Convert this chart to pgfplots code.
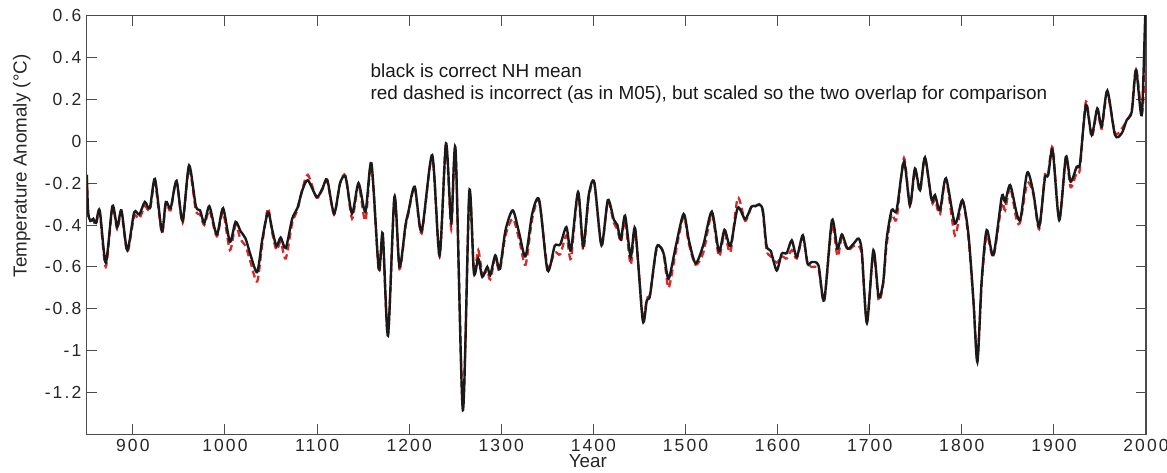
\documentclass[border=0pt]{standalone}
\usepackage{fontspec}
\setmainfont{Liberation Sans}
\newfontfamily\tickfont[LetterSpace=12]{Liberation Sans}
\usepackage{pgfplots}
\pgfplotsset{compat=1.18}
\definecolor{mredd}{HTML}{D42A2A}
\definecolor{mblack}{HTML}{1A1A1A}

\pgfplotstableread{
year val
850 -0.16
851.5 -0.34
854 -0.38
857 -0.37
860 -0.39
864 -0.33
870.6 -0.58
877.8 -0.31
883 -0.41
887.6 -0.33
894 -0.52
901.4 -0.34
907 -0.35
913 -0.29
918.4 -0.32
924 -0.18
931.5 -0.43
935.8 -0.29
941 -0.32
947.4 -0.19
954 -0.38
961 -0.115
968.4 -0.31
973 -0.33
977.5 -0.39
983 -0.31
989 -0.42
992 -0.44
998 -0.32
1005.4 -0.48
1011.5 -0.385
1017 -0.43
1022.4 -0.465
1027.9 -0.545
1035 -0.625
1040.5 -0.47
1046.7 -0.34
1051.4 -0.425
1056 -0.50
1060.5 -0.46
1066 -0.51
1073 -0.37
1078.6 -0.32
1084 -0.234
1090 -0.186
1099.6 -0.266
1105.8 -0.226
1111 -0.183
1118.5 -0.346
1125 -0.20
1131 -0.172
1138 -0.345
1145 -0.20
1152.5 -0.337
1159 -0.105
1167 -0.61
1171.3 -0.44
1177 -0.926
1184 -0.265
1189.5 -0.60
1196 -0.40
1199 -0.34
1206 -0.217
1213.5 -0.43
1225 -0.066
1233 -0.544
1240 -0.01
1245.7 -0.385
1250.4 -0.042
1258.3 -1.285
1265.3 -0.24
1270.3 -0.63
1275 -0.56
1279.4 -0.648
1284.8 -0.60
1288 -0.64
1293.5 -0.545
1298.3 -0.61
1304.6 -0.425
1312.5 -0.33
1319.5 -0.44
1326.3 -0.55
1333.6 -0.346
1341.2 -0.281
1350.2 -0.617
1358 -0.50
1364 -0.493
1370.7 -0.41
1375.6 -0.52
1383.4 -0.242
1389 -0.50
1395 -0.255
1401 -0.196
1408.8 -0.497
1415.7 -0.281
1422.2 -0.375
1426 -0.40
1429.9 -0.47
1434.4 -0.355
1440.5 -0.553
1445.4 -0.417
1453.6 -0.856
1458 -0.76
1461.5 -0.736
1468.5 -0.508
1474 -0.513
1477 -0.55
1481.7 -0.657
1489.3 -0.505
1498 -0.347
1503.7 -0.473
1511 -0.583
1519.5 -0.493
1528.6 -0.336
1536.3 -0.525
1542.4 -0.423
1548.8 -0.50
1556.7 -0.318
1564.8 -0.372
1571.7 -0.312
1576 -0.31
1580.2 -0.303
1584 -0.33
1588 -0.50
1592.6 -0.524
1599 -0.617
1604.5 -0.537
1610 -0.534
1615.4 -0.473
1620.8 -0.553
1627.4 -0.449
1632.5 -0.585
1637 -0.577
1644.4 -0.593
1650.6 -0.76
1659 -0.378
1665 -0.513
1669.8 -0.445
1676 -0.513
1682.5 -0.489
1688 -0.465
1691.5 -0.529
1697 -0.869
1704 -0.521
1709.7 -0.744
1714.7 -0.671
1718.3 -0.472
1723.8 -0.329
1729.2 -0.329
1737.2 -0.098
1743.7 -0.305
1749.1 -0.13
1754.6 -0.233
1760 -0.077
1767.3 -0.281
1770.9 -0.257
1776.3 -0.329
1782.8 -0.177
1792.6 -0.393
1800.6 -0.281
1807.1 -0.44
1812.6 -0.759
1816.9 -1.054
1821.6 -0.663
1827 -0.424
1834.3 -0.544
1843.4 -0.265
1847 -0.289
1852.5 -0.209
1859.6 -0.345
1863.8 -0.369
1871 -0.15
1877.5 -0.241
1884 -0.408
1890.2 -0.177
1893.8 -0.162
1898.6 -0.042
1905.8 -0.377
1913 -0.074
1918.1 -0.193
1924.7 -0.122
1928.3 -0.106
1934.8 0.173
1941 0.030
1947.1 0.157
1951.8 0.07
1958 0.242
1966.3 0.030
1973.6 0.038
1979 0.101
1984.5 0.141
1989.2 0.34
1995.3 0.125
1999 0.579
2000 0.65
}\blackdata

\pgfplotstableread{
year val
850 -0.17
851.5 -0.36
854 -0.38
857 -0.38
860 -0.40
864 -0.34
870.6 -0.60
877.8 -0.32
883 -0.42
887.6 -0.34
894 -0.53
901.4 -0.36
907 -0.37
913 -0.31
918.4 -0.33
924 -0.20
931.5 -0.44
935.8 -0.30
941 -0.33
947.4 -0.19
954 -0.39
961 -0.13
968.4 -0.33
973 -0.35
977.5 -0.40
983 -0.33
989 -0.43
992 -0.45
998 -0.34
1005.4 -0.52
1011.5 -0.40
1017 -0.47
1022.4 -0.50
1027.9 -0.58
1035 -0.67
1040.5 -0.49
1046.7 -0.32
1051.4 -0.44
1056 -0.52
1060.5 -0.48
1066 -0.56
1073 -0.39
1078.6 -0.33
1084 -0.23
1090 -0.16
1099.6 -0.27
1105.8 -0.23
1111 -0.19
1118.5 -0.35
1125 -0.20
1131 -0.165
1138 -0.37
1145 -0.21
1152.5 -0.38
1159 -0.11
1167 -0.62
1171.3 -0.46
1177 -0.93
1184 -0.27
1189.5 -0.61
1196 -0.41
1199 -0.35
1206 -0.22
1213.5 -0.44
1225 -0.07
1233 -0.55
1240 -0.01
1245.7 -0.42
1250.4 -0.05
1258.3 -1.26
1265.3 -0.25
1270.3 -0.62
1275 -0.52
1279.4 -0.63
1284.8 -0.62
1288 -0.66
1293.5 -0.56
1298.3 -0.62
1304.6 -0.45
1312.5 -0.37
1319.5 -0.47
1326.3 -0.59
1333.6 -0.37
1341.2 -0.29
1350.2 -0.60
1358 -0.53
1364 -0.54
1370.7 -0.45
1375.6 -0.56
1383.4 -0.25
1389 -0.52
1395 -0.27
1401 -0.20
1408.8 -0.50
1415.7 -0.29
1422.2 -0.39
1426 -0.42
1429.9 -0.48
1434.4 -0.38
1440.5 -0.59
1445.4 -0.43
1453.6 -0.84
1458 -0.75
1461.5 -0.73
1468.5 -0.52
1474 -0.51
1477 -0.56
1481.7 -0.70
1489.3 -0.53
1498 -0.36
1503.7 -0.49
1511 -0.59
1519.5 -0.53
1528.6 -0.35
1536.3 -0.55
1542.4 -0.44
1548.8 -0.53
1556.7 -0.27
1564.8 -0.38
1571.7 -0.31
1576 -0.31
1580.2 -0.30
1584 -0.34
1588 -0.52
1592.6 -0.55
1599 -0.58
1604.5 -0.55
1610 -0.56
1615.4 -0.52
1620.8 -0.56
1627.4 -0.46
1632.5 -0.58
1637 -0.60
1644.4 -0.61
1650.6 -0.76
1659 -0.40
1665 -0.55
1669.8 -0.46
1676 -0.52
1682.5 -0.50
1688 -0.50
1691.5 -0.55
1697 -0.86
1704 -0.53
1709.7 -0.76
1714.7 -0.68
1718.3 -0.50
1723.8 -0.35
1729.2 -0.37
1737.2 -0.08
1743.7 -0.31
1749.1 -0.14
1754.6 -0.24
1760 -0.08
1767.3 -0.29
1770.9 -0.28
1776.3 -0.35
1782.8 -0.18
1792.6 -0.45
1800.6 -0.28
1807.1 -0.46
1812.6 -0.76
1816.9 -1.04
1821.6 -0.68
1827 -0.45
1834.3 -0.55
1843.4 -0.30
1847 -0.33
1852.5 -0.22
1859.6 -0.38
1863.8 -0.38
1871 -0.20
1877.5 -0.25
1884 -0.42
1890.2 -0.16
1893.8 -0.15
1898.6 -0.03
1905.8 -0.37
1913 -0.08
1918.1 -0.22
1924.7 -0.15
1928.3 -0.13
1934.8 0.19
1941 0.02
1947.1 0.15
1951.8 0.06
1958 0.23
1966.3 0.04
1973.6 0.06
1979 0.10
1984.5 0.15
1989.2 0.35
1995.3 0.13
1998 0.27
2000 0.36
}\reddata

\begin{document}
\begin{tikzpicture}
\begin{axis}[
  scale only axis,
  width=1059.2pt, height=418.6pt,
  xmin=850, xmax=2000, ymin=-1.4, ymax=0.6,
  axis line style={draw=black!70, line width=1.1pt},
  tick align=inside,
  major tick length=10pt,
  tick style={draw=black!70, line width=1pt},
  xtick={900,1000,...,2000},
  xticklabels={900,1000,1100,1200,1300,1400,1500,1600,1700,1800,1900,2000},
  ytick={-1.2,-1,-0.8,-0.6,-0.4,-0.2,0,0.2,0.4,0.6},
  yticklabels={-1.2,-1,-0.8,-0.6,-0.4,-0.2,0,0.2,0.4,0.6},
  ticklabel style={font=\tickfont\fontsize{17.5}{20}\selectfont, text=black!85},
  xticklabel style={yshift=-1pt},
  yticklabel style={xshift=-2pt},
  xlabel={Year},
  ylabel={Temperature Anomaly (°C)},
  label style={font=\fontsize{18.8}{22}\selectfont, text=black!85},
  xlabel style={at={(axis description cs:0.473,-0.0795)}, anchor=base, inner sep=0pt},
  ylabel style={at={(axis description cs:-0.0569,0.641)}, anchor=base, rotate=0},
  clip=true,
]
\addplot[mredd, line width=2.3pt, dash pattern=on 7pt off 4pt, smooth, tension=0.45] table[x=year, y=val] {\reddata};
\addplot[mblack, line width=2.4pt, smooth, tension=0.45] table[x=year, y=val] {\blackdata};
\node[anchor=base west, font=\fontsize{18.9}{22}\selectfont, text=black!90, inner sep=0pt] at (axis cs:1158,0.307) {black is correct NH mean};
\node[anchor=base west, font=\fontsize{18.9}{22}\selectfont, text=black!90, inner sep=0pt] at (axis cs:1158,0.202) {red dashed is incorrect (as in M05), but scaled so the two overlap for comparison};
\end{axis}
\pgfresetboundingbox
\path (-86.8pt,-37.7pt) rectangle (1080.2pt,434.3pt);
\end{tikzpicture}
\end{document}
